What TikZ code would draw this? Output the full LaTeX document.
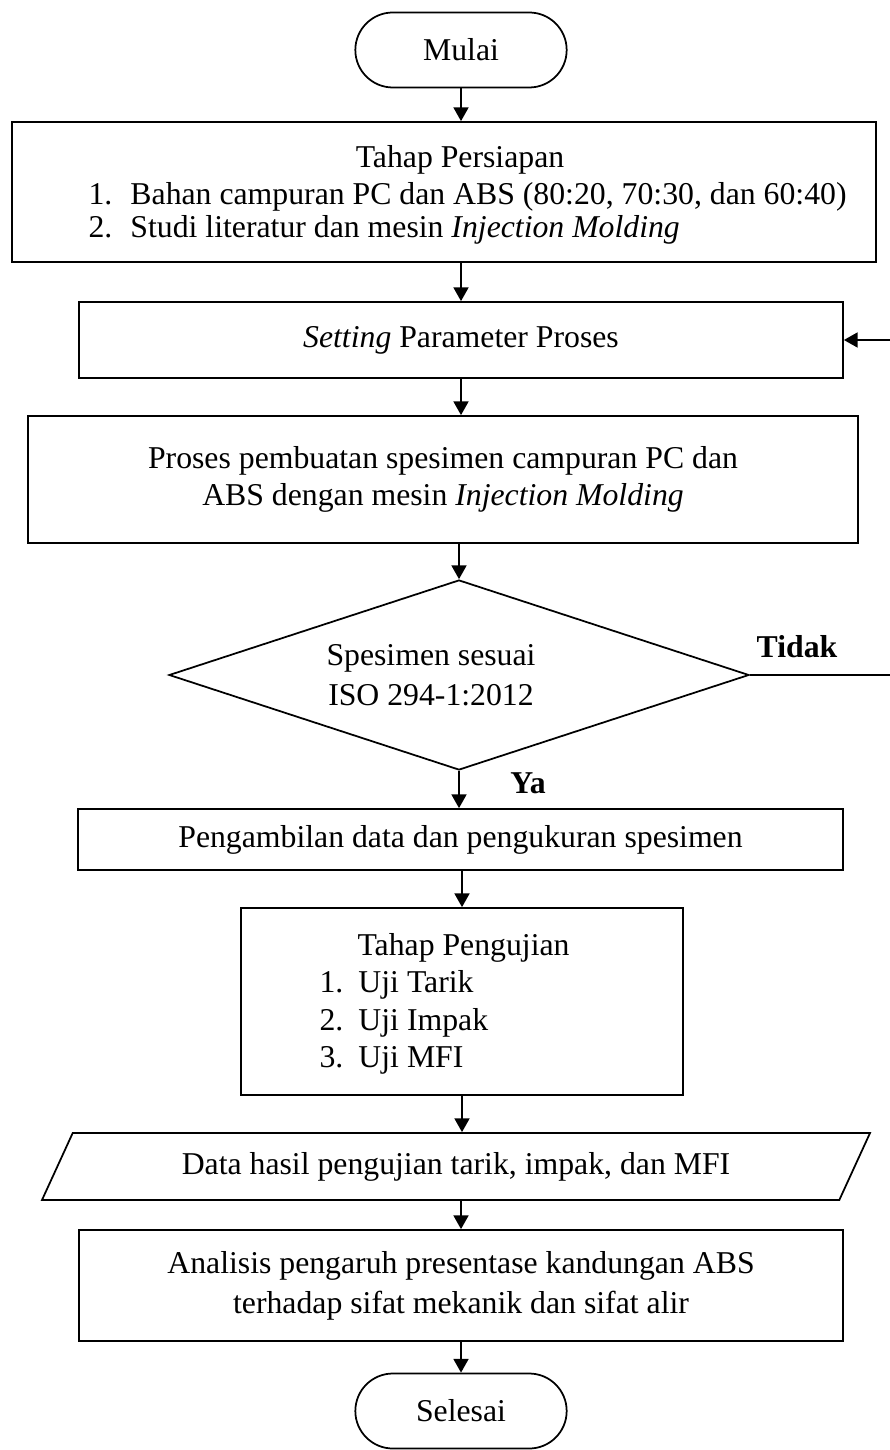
\documentclass[tikz,border=0pt]{standalone}
\usepackage{fontspec}
\setmainfont{Liberation Serif}
\usetikzlibrary{arrows.meta, shapes.geometric, shapes.misc, positioning}

\tikzset{
	terminal/.style={draw, rounded rectangle, line width=0.7pt, minimum width=91.2pt,
		minimum height=30pt},
	proses/.style={draw, rectangle, line width=0.7pt, align=center},
	keputusan/.style={draw, diamond, line width=0.7pt, minimum width=232pt,
		minimum height=76pt, inner sep=0pt},
	datain/.style={draw, trapezium, trapezium left angle=56, trapezium right angle=124,
		trapezium stretches body, line width=0.7pt, minimum width=331.2pt,
		minimum height=26.8pt},
	teks/.style={inner sep=0pt, anchor=west, text height=8.8pt, text depth=2.6pt},
	panah/.style={-{Triangle[length=5.5pt, width=6pt]}, line width=0.7pt}
}

\begin{document}
\begin{tikzpicture}[x=0.4pt, y=-0.4pt, font=\fontsize{12.7}{15}\selectfont]
	\useasboundingbox (0,0) rectangle (889,1450);

	\node[terminal] (mulai) at (461,50) {Mulai};

	\node[proses, minimum width=345.6pt, minimum height=56pt] (persiapan) at (444,192) {};
	\node[teks, anchor=center] (judul1) at (460,160) {Tahap Persiapan};
	\foreach \t [count=\i] in {
		{Bahan campuran PC dan ABS (80:20, 70:30, dan 60:40)},
		{Studi literatur dan mesin \textit{Injection Molding}}}{
		\node[teks] (siap\i) at (88,164+33*\i) {\makebox[16.8pt][l]{\i.}\t};
	}

	\node[proses, minimum width=305.6pt, minimum height=30.4pt] (setting) at (461,340)
		{\textit{Setting} Parameter Proses};

	\node[proses, minimum width=332pt, minimum height=50.8pt] (pembuatan) at (443,479.5)
		{Proses pembuatan spesimen campuran PC dan\\ABS dengan mesin \textit{Injection Molding}};

	\node[keputusan] (cek) at (459,675) {};
	\node[align=center] (cektxt) at (431,675) {Spesimen sesuai\\[1pt]ISO 294-1:2012};
	\node[font=\fontsize{12.7}{15}\selectfont\bfseries] (tidak) at (797,647) {Tidak};
	\node[font=\fontsize{12.7}{15}\selectfont\bfseries] (ya) at (528,783) {Ya};

	\node[proses, minimum width=306pt, minimum height=24.4pt] (ambil) at (460.5,839.5)
		{Pengambilan data dan pengukuran spesimen};

	\node[proses, minimum width=176.8pt, minimum height=74.8pt] (pengujian) at (462,1001.5) {};
	\node[teks] (judul2) at (357,948) {Tahap Pengujian};
	\foreach \t [count=\i] in {Tarik, Impak, MFI}{
		\node[teks] (uji\i) at (319,947.5+37.5*\i) {\makebox[15.6pt][l]{\i.}Uji \t};
	}

	\node[datain] (hasil) at (456,1166.5) {Data hasil pengujian tarik, impak, dan MFI};

	\node[proses, minimum width=305.6pt, minimum height=44.4pt] (analisis) at (461,1285.5)
		{Analisis pengaruh presentase kandungan ABS\\[1pt]terhadap sifat mekanik dan sifat alir};

	\node[terminal] (selesai) at (461,1411) {Selesai};

	\coordinate (balik) at (893,675);

	\draw[panah] (mulai.south) -- (mulai.south |- persiapan.north);
	\draw[panah] (mulai.south |- persiapan.south) -- (setting.north);
	\draw[panah] (setting.south) -- (setting.south |- pembuatan.north);
	\draw[panah] (cek.north |- pembuatan.south) -- (cek.north);
	\draw[panah] (cek.south) -- (cek.south |- ambil.north);
	\draw[panah] (ambil.south -| pengujian.north) -- (pengujian.north);
	\draw[panah] (pengujian.south) -- (pengujian.south |- hasil.north);
	\draw[panah] (analisis.north |- hasil.south) -- (analisis.north);
	\draw[panah] (analisis.south) -- (selesai.north);
	\draw[panah] (cek.east) -- (balik) |- (setting.east);
\end{tikzpicture}
\end{document}
